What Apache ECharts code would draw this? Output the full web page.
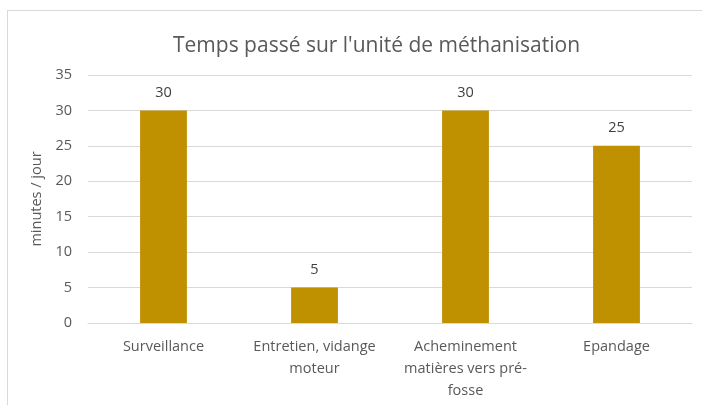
<!DOCTYPE html>
<html lang="fr">

<head>
    <meta charset="UTF-8">
    <title>Temps passé sur l'unité de méthanisation</title>
    <script src="https://cdn.jsdelivr.net/npm/echarts@6/dist/echarts.min.js"></script>
    <style>
        html, body {
            margin: 0;
            padding: 0;
            background: #ffffff;
        }

        #frame {
            position: absolute;
            left: 7px;
            top: 10px;
            width: 710px;
            height: 410px;
            border: 1px solid #d9d9d9;
            box-sizing: border-box;
        }

        #chart {
            position: absolute;
            left: 0;
            top: 0;
            width: 702px;
            height: 405px;
        }
    </style>
</head>

<body>
    <div id="frame"></div>
    <div id="chart"></div>
    <script>
        var categories = ['Surveillance', 'Entretien, vidange\nmoteur', 'Acheminement\nmatières vers pré-\nfosse', 'Epandage'];
        var minutes = [30, 5, 30, 25];
        var yTicks = [0, 5, 10, 15, 20, 25, 30, 35];

        var font = 'Open Sans, sans-serif';
        var myChart = echarts.init(document.getElementById('chart'));

        var option = {
            animation: false,
            title: {
                text: "Temps passé sur l'unité de méthanisation",
                left: 168,
                top: 31,
                textStyle: { fontFamily: font, fontSize: 21, fontWeight: 'normal', color: '#595959' }
            },
            grid: { left: 88, right: 10, top: 75, bottom: 82 },
            xAxis: {
                type: 'category',
                data: categories,
                axisLine: { lineStyle: { color: '#d9d9d9' } },
                axisTick: { show: false },
                axisLabel: {
                    interval: 0,
                    margin: 13,
                    fontFamily: font,
                    fontSize: 14.5,
                    lineHeight: 22,
                    color: '#595959'
                }
            },
            yAxis: {
                type: 'value',
                min: yTicks[0],
                max: yTicks[yTicks.length - 1],
                interval: 5,
                name: 'minutes / jour',
                nameLocation: 'middle',
                nameGap: 44,
                nameTextStyle: { fontFamily: font, fontSize: 14.5, color: '#595959' },
                axisLine: { show: false },
                axisTick: { show: false },
                splitLine: { lineStyle: { color: '#d9d9d9' } },
                axisLabel: { margin: 16, fontFamily: font, fontSize: 14.5, color: '#595959' }
            },
            series: [{
                type: 'bar',
                data: minutes,
                barWidth: '31%',
                itemStyle: { color: '#bf9000' },
                label: {
                    show: true,
                    position: 'top',
                    distance: 10,
                    fontFamily: font,
                    fontSize: 14.5,
                    color: '#404040'
                }
            }]
        };

        myChart.setOption(option);
    </script>
</body>

</html>
